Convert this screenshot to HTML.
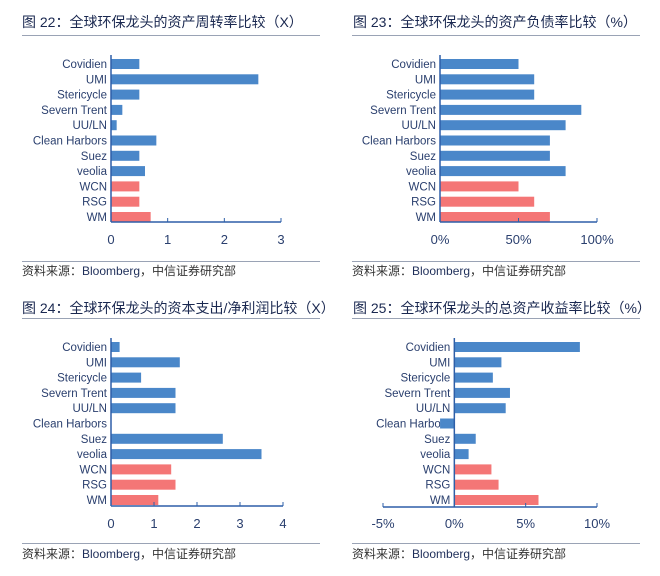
<!DOCTYPE html>
<html><head><meta charset="utf-8"><style>
body{margin:0;background:#fff;}
svg{display:block;font-family:"Liberation Sans","Noto Sans CJK SC",sans-serif;}
</style></head><body>
<svg id="s" width="660" height="576" xmlns="http://www.w3.org/2000/svg">
<g font-size="14" fill="#1a2850">
<text x="22" y="27">图 22：全球环保龙头的资产周转率比较（X）</text>
<text x="353" y="27">图 23：全球环保龙头的资产负债率比较（%）</text>
<text x="22" y="313">图 24：全球环保龙头的资本支出/净利润比较（X）</text>
<text x="353" y="313">图 25：全球环保龙头的总资产收益率比较（%）</text>
</g>
<g stroke="#9aa3b5" stroke-width="1">
<line x1="22" y1="35.5" x2="320" y2="35.5"/>
<line x1="352" y1="35.5" x2="640" y2="35.5"/>
<line x1="22" y1="318.5" x2="320" y2="318.5"/>
<line x1="352" y1="318.5" x2="640" y2="318.5"/>
<line x1="22" y1="261.5" x2="320" y2="261.5"/>
<line x1="352" y1="261.5" x2="640" y2="261.5"/>
<line x1="22" y1="543.5" x2="320" y2="543.5"/>
<line x1="352" y1="543.5" x2="640" y2="543.5"/>
</g>
<g font-size="12" fill="#333">
<text x="22" y="275">资料来源：<tspan fill="#1f2f5a">Bloomberg</tspan>，中信证券研究部</text>
<text x="352" y="275">资料来源：<tspan fill="#1f2f5a">Bloomberg</tspan>，中信证券研究部</text>
<text x="22" y="558">资料来源：<tspan fill="#1f2f5a">Bloomberg</tspan>，中信证券研究部</text>
<text x="352" y="558">资料来源：<tspan fill="#1f2f5a">Bloomberg</tspan>，中信证券研究部</text>
</g>
<g id="charts"></g>
</svg>
<script>
var names=["Covidien","UMI","Stericycle","Severn Trent","UU/LN","Clean Harbors","Suez","veolia","WCN","RSG","WM"];
var charts=[
 {x0:111,x1:281,min:0,max:3,ticks:[0,1,2,3],lab:["0","1","2","3"],y0:64,y1:217,ax:222,ly:244,
  v:[0.5,2.6,0.5,0.2,0.1,0.8,0.5,0.6,0.5,0.5,0.7]},
 {x0:440,x1:597,min:0,max:100,ticks:[0,50,100],lab:["0%","50%","100%"],y0:64,y1:217,ax:222,ly:244,
  v:[50,60,60,90,80,70,70,80,50,60,70]},
 {x0:111,x1:283,min:0,max:4,ticks:[0,1,2,3,4],lab:["0","1","2","3","4"],y0:347,y1:500,ax:506,ly:528,
  v:[0.2,1.6,0.7,1.5,1.5,0,2.6,3.5,1.4,1.5,1.1]},
 {x0:383,x1:597,min:-5,max:10,ticks:[-5,0,5,10],lab:["-5%","0%","5%","10%"],y0:347,y1:500,ax:507,ly:528,
  v:[8.8,3.3,2.7,3.9,3.6,-1.0,1.5,1.0,2.6,3.1,5.9]}
];
var h="";
charts.forEach(function(c){
 var sx=function(v){return c.x0+(v-c.min)/(c.max-c.min)*(c.x1-c.x0);};
 var z=sx(0);
 var step=(c.y1-c.y0)/10;
 for(var i=0;i<11;i++){
  var y=c.y0+i*step;
  h+='<text x="'+(z-4)+'" y="'+(y+4)+'" font-size="11.5" fill="#2a3f6e" text-anchor="end">'+names[i]+'</text>';
 }
 for(var i=0;i<11;i++){
  var y=c.y0+i*step, v=c.v[i], a=Math.min(z,sx(v)), w=Math.abs(sx(v)-z);
  var col=i>=8?"#f47676":"#4a87c9";
  h+='<rect x="'+a+'" y="'+(y-5)+'" width="'+w+'" height="10" fill="'+col+'"/>';
 }
 h+='<line x1="'+z+'" y1="'+(c.y0-9)+'" x2="'+z+'" y2="'+c.ax+'" stroke="#2e5fa8" stroke-width="1.5"/>';
 h+='<line x1="'+c.x0+'" y1="'+c.ax+'" x2="'+c.x1+'" y2="'+c.ax+'" stroke="#2e5fa8" stroke-width="1.5"/>';
 c.ticks.forEach(function(t,k){
  var x=sx(t);
  h+='<line x1="'+x+'" y1="'+(c.ax-4)+'" x2="'+x+'" y2="'+c.ax+'" stroke="#2e5fa8" stroke-width="1"/>';
  h+='<text x="'+x+'" y="'+c.ly+'" font-size="13" fill="#2a3f6e" text-anchor="middle">'+c.lab[k]+'</text>';
 });
});
document.getElementById("charts").innerHTML=h;
</script>
</body></html>
